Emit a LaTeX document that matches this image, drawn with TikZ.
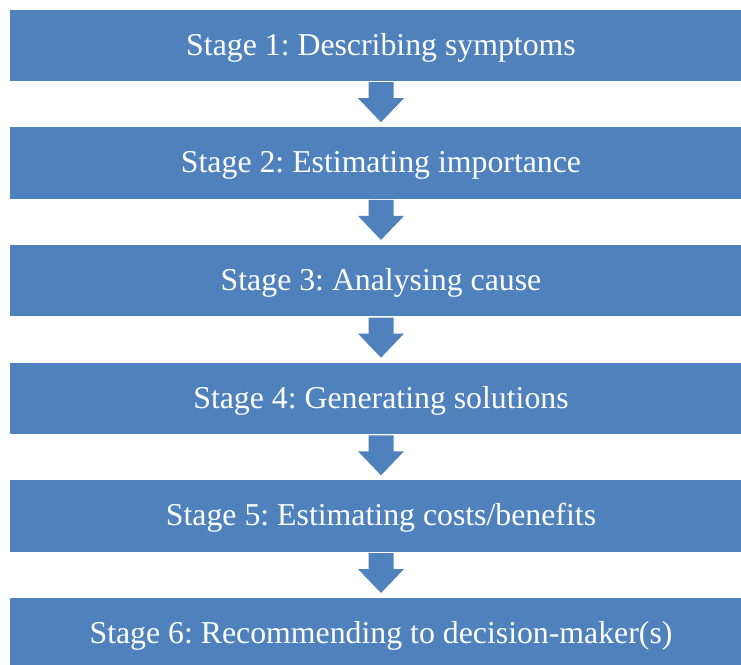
\documentclass[tikz,border=0pt]{standalone}
\usepackage{fontspec}
\setmainfont{Liberation Serif}
\usetikzlibrary{calc}
\definecolor{stageblue}{HTML}{4F81BD}
\tikzset{
  stagebox/.style={fill=stageblue, draw=none, minimum width=742pt, minimum height=71.5pt,
    inner sep=0pt, text=white, text height=25pt, text depth=5.5pt,
    font=\fontsize{31.8}{38}\selectfont\frenchspacing},
  downarrow/.style={fill=stageblue, draw=none}
}
\newcommand{\stagearrow}[2]{%
  \path[downarrow] let \p1=(#1.south) in
    (\x1-12.5pt,\y1-1pt) -- (\x1+12.5pt,\y1-1pt) -- (\x1+12.5pt,\y1-17pt)
    -- (\x1+23pt,\y1-17pt) -- (\x1,\y1-41pt) -- (\x1-23pt,\y1-17pt)
    -- (\x1-12.5pt,\y1-17pt) -- cycle;}
\begin{document}
\begin{tikzpicture}[x=1pt,y=-1pt]
\useasboundingbox (0,0) rectangle (741,664);
\clip (0,0) rectangle (741,664);
\fill[white] (0,0) rectangle (741,664);
\node[stagebox] (s1) at (381,45.25) {Stage 1: Describing symptoms};
\node[stagebox] (s2) at (381,162.95) {Stage 2: Estimating importance};
\node[stagebox] (s3) at (381,280.65) {Stage 3: Analysing cause};
\node[stagebox] (s4) at (381,398.35) {Stage 4: Generating solutions};
\node[stagebox] (s5) at (381,516.05) {Stage 5: Estimating costs/benefits};
\node[stagebox] (s6) at (381,633.75) {Stage 6: Recommending to decision-maker(s)};
\stagearrow{s1}{s2}
\stagearrow{s2}{s3}
\stagearrow{s3}{s4}
\stagearrow{s4}{s5}
\stagearrow{s5}{s6}
\end{tikzpicture}
\end{document}
